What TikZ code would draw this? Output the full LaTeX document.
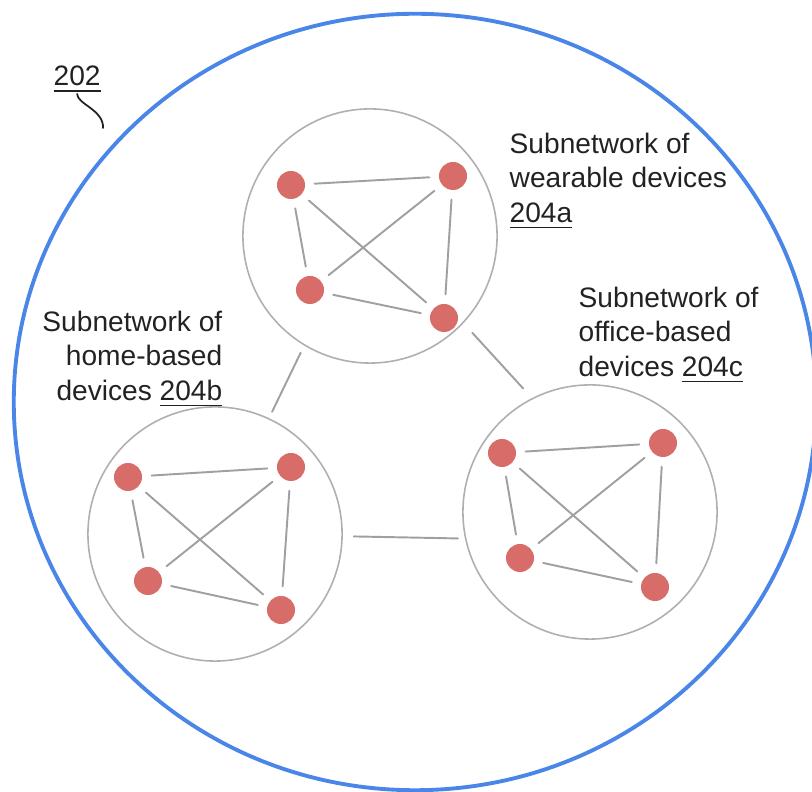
\documentclass[tikz,border=0pt]{standalone}
\usepackage{fontspec}
\setmainfont{Liberation Sans}
\usetikzlibrary{shapes.geometric}
\definecolor{netblue}{RGB}{74,134,232}
\definecolor{devred}{RGB}{215,108,104}
\definecolor{linkgray}{RGB}{160,160,160}
\definecolor{ringgray}{RGB}{175,175,175}
\definecolor{inkgray}{RGB}{34,34,34}

\begin{document}
\begin{tikzpicture}[x=0.01cm,y=-0.01cm,line cap=round,line join=round,
  every node/.style={inner sep=1pt},
  dev/.style={circle,fill=devred,minimum size=0.28cm,inner sep=0pt},
  subnet/.style={circle,draw=ringgray,line width=0.45pt,minimum size=2.54cm,inner sep=0pt},
  link/.style={draw=linkgray,line width=0.55pt,shorten <=0.09cm,shorten >=0.09cm},
  lbl/.style={font=\fontsize{8}{9.8}\selectfont,text=inkgray,inner sep=0pt}]
  \useasboundingbox (0,0) rectangle (812,792);
  \clip (0,0) rectangle (812,792);
  \node[ellipse,draw=netblue,line width=1.1pt,minimum width=8.02cm,minimum height=7.76cm,inner sep=0pt] (net) at (415,402) {};

  \node[subnet] (a) at (370,236) {};
  \node[subnet] (b) at (215,534) {};
  \node[subnet] (c) at (590,512) {};

  \node[dev] (a1) at (291,185) {};
  \node[dev] (a2) at (453,176) {};
  \node[dev] (a3) at (310,290) {};
  \node[dev] (a4) at (444,318) {};
  \node[dev] (b1) at (128,477) {};
  \node[dev] (b2) at (291,467) {};
  \node[dev] (b3) at (148,581) {};
  \node[dev] (b4) at (281,610) {};
  \node[dev] (c1) at (502,453) {};
  \node[dev] (c2) at (663,443) {};
  \node[dev] (c3) at (520,558) {};
  \node[dev] (c4) at (655,587) {};

  \foreach \s in {a,b,c}
    \foreach \p/\q in {1/2,1/3,1/4,2/3,2/4,3/4}
      \draw[link] (\s\p) -- (\s\q);

  \draw[link,shorten <=0.08cm,shorten >=0.07cm] (a.239.5) -- (b.65.6);
  \draw[link,shorten <=0.13cm,shorten >=0.13cm] (a.-43.5) -- (c.117);
  \draw[link,shorten <=0.11cm,shorten >=0.07cm] (b.-1) -- (c.192);

  \node[lbl,anchor=base west] (l202) at (53,86) {\underline{202}};
  \coordinate (tip) at (103,128);
  \draw[inkgray,line width=0.5pt] (l202.south) .. controls (77,104) and (104,110) .. (tip);

  \node[lbl,align=left,anchor=north west] (la) at (509,132)
    {Subnetwork of\\wearable devices\\\underline{204a}};
  \node[lbl,align=right,anchor=north east] (lb) at (223,310)
    {Subnetwork of\\home-based\\devices \underline{204b}};
  \node[lbl,align=left,anchor=north west] (lc) at (578,286)
    {Subnetwork of\\office-based\\devices \underline{204c}};
\end{tikzpicture}
\end{document}
